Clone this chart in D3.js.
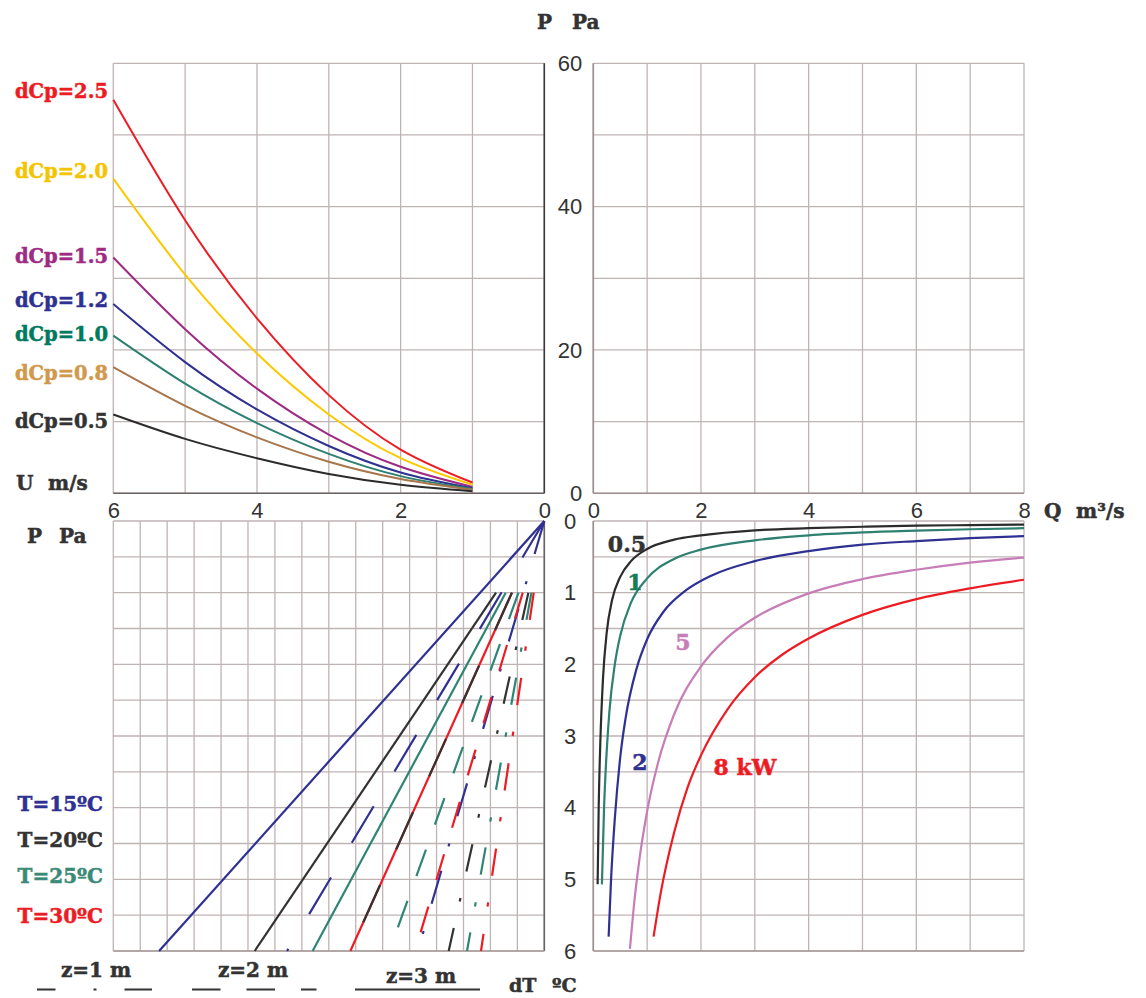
<!DOCTYPE html>
<html>
<head>
<meta charset="utf-8">
<script src="https://cdn.jsdelivr.net/npm/d3@7"></script>
<style>
  body { margin: 0; background: #fff; }
</style>
</head>
<body>
<svg id="chart" width="1146" height="998"></svg>
<script>
// ---- top left: pressure from wind, P Pa against U m/s ----
const speeds = [1, 2, 3, 4, 5, 6];
const dcpLabels = ['dCp=2.5', 'dCp=2.0', 'dCp=1.5', 'dCp=1.2', 'dCp=1.0', 'dCp=0.8', 'dCp=0.5'];
const windP25 = [1.5, 6.1, 13.7, 24.4, 38.1, 54.9];
const windP20 = [1.2, 4.9, 11.0, 19.5, 30.5, 43.9];
const windP15 = [0.9, 3.7, 8.2, 14.6, 22.9, 32.9];
const windP12 = [0.7, 2.9, 6.6, 11.7, 18.3, 26.4];
const windP10 = [0.6, 2.4, 5.5, 9.8, 15.3, 22.0];
const windP08 = [0.5, 2.0, 4.4, 7.8, 12.2, 17.6];
const windP05 = [0.3, 1.2, 2.7, 4.9, 7.6, 11.0];
const uTicks = [6, 4, 2, 0];
const pTicks = [0, 20, 40, 60];

// ---- bottom left: stack pressure, P Pa against dT ºC ----
const tempLabels = ['T=15ºC', 'T=20ºC', 'T=25ºC', 'T=30ºC'];
const heightLabels = ['z=1 m', 'z=2 m', 'z=3 m'];
// dT read where each line meets P = 6 Pa
const dtAtSixZ1 = [4.7, 3.55, 2.87, 2.35];
const dtAtSixZ2 = [9.55, 7.2, 5.75, 4.8];
const dtAtSixZ3 = [14.3, 10.75, 8.6, 7.2];
// P where each temperature's lines begin
const lineStartP = [0, 1, 1, 1];
// dash patterns along the lines, in Pa
const dashZ1 = [[0.46, 0.38, 0.04, 0.34], [0.38, 0.37, 0.05, 0.37], [0.38, 0.385, 0.06, 0.36], [0.38, 0.37, 0.06, 0.38]];
const dashZ2 = [[0.51, 0.485], [0.52, 0.5], [0.37, 0.347], [0.36, 0.37]];
const lowTicks = [0, 1, 2, 3, 4, 5, 6];

// ---- bottom right: heat load curves, against Q m3/s ----
const kwLabels = ['0.5', '1', '2', '5', '8 kW'];
const kw05Q = [0.08, 0.1, 0.13, 0.18, 0.25, 0.35, 0.5, 0.7, 1.0, 1.5, 2, 3, 4, 5, 6, 7, 8];
const kw05P = [5.07, 4.0, 3.1, 2.2, 1.55, 1.1, 0.78, 0.56, 0.39, 0.26, 0.2, 0.13, 0.1, 0.08, 0.065, 0.057, 0.05];
const kw1Q = [0.16, 0.2, 0.25, 0.3, 0.4, 0.5, 0.7, 1.0, 1.5, 2, 3, 4, 5, 6, 7, 8];
const kw1P = [5.07, 4.0, 3.2, 2.65, 2.0, 1.6, 1.14, 0.8, 0.53, 0.4, 0.27, 0.2, 0.16, 0.135, 0.115, 0.1];
const kw2Q = [0.285, 0.33, 0.4, 0.5, 0.6, 0.8, 1.0, 1.3, 1.7, 2.2, 3, 4, 5, 6, 7, 8];
const kw2P = [5.8, 5.0, 4.15, 3.3, 2.75, 2.07, 1.65, 1.27, 0.98, 0.76, 0.56, 0.42, 0.33, 0.28, 0.24, 0.21];
const kw5Q = [0.68, 0.75, 0.85, 1.0, 1.2, 1.5, 2, 2.5, 3, 4, 5, 6, 7, 8];
const kw5P = [5.97, 5.4, 4.76, 4.05, 3.38, 2.7, 2.03, 1.62, 1.35, 1.01, 0.81, 0.68, 0.58, 0.51];
const kw8Q = [1.12, 1.25, 1.5, 1.75, 2, 2.5, 3, 3.5, 4, 5, 6, 7, 8];
const kw8P = [5.8, 5.2, 4.35, 3.72, 3.27, 2.62, 2.18, 1.87, 1.64, 1.31, 1.09, 0.94, 0.82];
const qTicks = [0, 2, 4, 6, 8];

const svg = d3.select('#chart');
const serif = 'DejaVu Serif, serif';
const sans = 'Liberation Sans, Arial, sans-serif';
const gridColor = '#bfb4b4';

const uX = d3.scaleLinear().domain([6, 0]).range([113.3, 544.3]);
const pY = d3.scaleLinear().domain([0, 60]).range([493.3, 63.3]);
const qX = d3.scaleLinear().domain([0, 8]).range([593.3, 1024]);
const dtX = d3.scaleLinear().domain([16, 0]).range([113.3, 544.3]);
const lowY = d3.scaleLinear().domain([0, 6]).range([521, 951]);

const grid = (xs, ys, xv, yv) => {
  const g = svg.append('g').attr('stroke', gridColor).attr('stroke-width', 1.3);
  g.selectAll('line.v').data(xv).join('line').attr('class', 'v')
    .attr('x1', (d) => xs(d)).attr('x2', (d) => xs(d))
    .attr('y1', ys.range()[0]).attr('y2', ys.range()[1]);
  g.selectAll('line.h').data(yv).join('line').attr('class', 'h')
    .attr('y1', (d) => ys(d)).attr('y2', (d) => ys(d))
    .attr('x1', xs.range()[0]).attr('x2', xs.range()[1]);
};
grid(uX, pY, d3.range(0, 7), d3.range(0, 61, 10));
grid(qX, pY, d3.range(0, 9), d3.range(0, 61, 10));
grid(dtX, lowY, d3.range(0, 17), d3.range(0, 6.01, 0.5));
grid(qX, lowY, d3.range(0, 9), d3.range(0, 6.01, 0.5));

// darker edges where the four panels meet
const edge = (x1, y1, x2, y2, color) => {
  svg.append('line').attr('x1', x1).attr('y1', y1).attr('x2', x2).attr('y2', y2)
    .attr('stroke', color).attr('stroke-width', 1.6);
};
edge(uX(0), pY(60), uX(0), pY(0), '#3a3a3a');
edge(uX(6), pY(0), uX(0), pY(0), '#6a6262');
edge(dtX(0), lowY(0), dtX(0), lowY(6), '#6a6262');
edge(qX(0), pY(60), qX(0), pY(0), '#9a9090');
edge(qX(0), pY(0), qX(8), pY(0), '#9a9090');
edge(qX(0), lowY(0), qX(0), lowY(6), '#9a9090');
edge(dtX(16), lowY(6), dtX(0), lowY(6), '#a89e9e');
edge(qX(0), lowY(6), qX(8), lowY(6), '#a89e9e');

// tick labels
const tickLabels = (axis, transform) => {
  const g = svg.append('g').attr('transform', transform).call(axis);
  g.select('.domain').remove();
  g.selectAll('.tick line').remove();
  g.selectAll('text').attr('font-family', sans).attr('font-size', 22).attr('fill', '#333');
};
tickLabels(d3.axisBottom(uX).tickValues(uTicks).tickSize(0).tickPadding(9).tickFormat(d3.format('d')), `translate(0,${pY(0)})`);
tickLabels(d3.axisBottom(qX).tickValues(qTicks).tickSize(0).tickPadding(9).tickFormat(d3.format('d')), `translate(0,${pY(0)})`);
tickLabels(d3.axisLeft(pY).tickValues(pTicks).tickSize(0).tickPadding(11).tickFormat(d3.format('d')), `translate(${qX(0)},0)`);
tickLabels(d3.axisLeft(lowY).tickValues(lowTicks).tickSize(0).tickPadding(17).tickFormat(d3.format('d')), `translate(${qX(0)},0)`);

// bold titles, given a thin outline to match the heavy face of the original
const label = (txt, x, y, color, size, anchor) => {
  const c = color || '#333';
  svg.append('text').attr('x', x).attr('y', y).text(txt)
    .attr('font-family', serif).attr('font-weight', 'bold')
    .attr('font-size', size || 20).attr('fill', c)
    .attr('stroke', c).attr('stroke-width', 0.5)
    .attr('text-anchor', anchor || 'start');
};
label('P', 537, 29); label('Pa', 572, 29);
label('U', 16, 490); label('m/s', 48, 490);
label('P', 27, 543); label('Pa', 59, 543);
label('Q', 1044, 518); label('m³/s', 1076, 518);
label('dT', 509, 992, '#333', 19); label('ºC', 552, 992, '#333', 19);

// ---- top left curves ----
const windSeries = [windP25, windP20, windP15, windP12, windP10, windP08, windP05];
const windLine = ['#ed1c24', '#fcc900', '#9e2a82', '#2e3192', '#2e8070', '#a8764a', '#2b2b2b'];
const windText = ['#ed1c24', '#f5c400', '#9e2a82', '#2e3192', '#007a5e', '#d1994c', '#333333'];
const labelNudge = [-9, -8, -2, -4, -2, 6, 7];
const windPath = d3.line().x((d) => uX(d[0])).y((d) => pY(d[1])).curve(d3.curveNatural);
windSeries.forEach((vals, i) => {
  svg.append('path').attr('d', windPath(speeds.map((u, k) => [u, vals[k]])))
    .attr('fill', 'none').attr('stroke', windLine[i]).attr('stroke-width', 2);
  label(dcpLabels[i], 108, pY(vals[vals.length - 1]) + labelNudge[i] + 7, windText[i], 19.5, 'end');
});

// ---- bottom left lines ----
const tempColors = ['#2e3192', '#333333', '#2e8574', '#ed1c24'];
const dtAtSix = [dtAtSixZ1, dtAtSixZ2, dtAtSixZ3];
const dashes = [dashZ1, dashZ2, null];
// solid z=3 first, then the dashed sets on top
const drawOrder = [[2, 0], [2, 1], [2, 2], [2, 3], [0, 0], [1, 3], [1, 0], [1, 1], [1, 2], [0, 1], [0, 2], [0, 3]];
const stackLine = d3.line().x((d) => dtX(d[0])).y((d) => lowY(d[1]));
drawOrder.forEach(([zi, ti]) => {
  const end = dtAtSix[zi][ti];
  const p0 = lineStartP[ti];
  const pts = [[end * p0 / 6, p0], [end, 6]];
  const path = svg.append('path').attr('d', stackLine(pts))
    .attr('fill', 'none').attr('stroke', tempColors[ti]).attr('stroke-width', 2.2);
  if (dashes[zi]) {
    const len = Math.hypot(dtX(pts[1][0]) - dtX(pts[0][0]), lowY(pts[1][1]) - lowY(pts[0][1]));
    const perP = len / (6 - p0);
    path.attr('stroke-dasharray', dashes[zi][ti].map((v) => (v * perP).toFixed(2)).join(' '));
  }
});
const tempText = ['#2e3192', '#333333', '#3a8a77', '#ed1c24'];
const tempY = [804, 840, 876, 916];
tempLabels.forEach((t, i) => label(t, 103, tempY[i] + 7, tempText[i], 20, 'end'));

// legend for heights
const legendX = [[37, 152], [192, 317], [355, 480]];
const legendDash = ['18.5 38 3 28 28', '28.5 26 28.5 26 15.5', null];
const legendTextX = [96, 253, 421];
const legendTextY = [977, 977, 983];
heightLabels.forEach((h, i) => {
  const l = svg.append('line').attr('x1', legendX[i][0]).attr('x2', legendX[i][1])
    .attr('y1', 989.5).attr('y2', 989.5).attr('stroke', '#333').attr('stroke-width', 2);
  if (legendDash[i]) l.attr('stroke-dasharray', legendDash[i]);
  label(h, legendTextX[i], legendTextY[i], '#333', 20, 'middle');
});

// ---- bottom right curves ----
const kwQ = [kw05Q, kw1Q, kw2Q, kw5Q, kw8Q];
const kwP = [kw05P, kw1P, kw2P, kw5P, kw8P];
const kwLine = ['#2b2b2b', '#2e8070', '#2e3192', '#c77db8', '#ed1c24'];
const kwText = ['#333333', '#1a7a5a', '#2e3192', '#c77db8', '#ed1c24'];
const kwLabelX = [627, 635, 640, 683, 745];
const kwLabelY = [552, 590, 770, 650, 775];
const kwPath = d3.line().x((d) => qX(d[0])).y((d) => lowY(d[1])).curve(d3.curveMonotoneX);
kwQ.forEach((qs, i) => {
  svg.append('path').attr('d', kwPath(qs.map((q, k) => [q, kwP[i][k]])))
    .attr('fill', 'none').attr('stroke', kwLine[i]).attr('stroke-width', 2.2);
  label(kwLabels[i], kwLabelX[i], kwLabelY[i], kwText[i], 22, 'middle');
});
</script>
</body>
</html>
